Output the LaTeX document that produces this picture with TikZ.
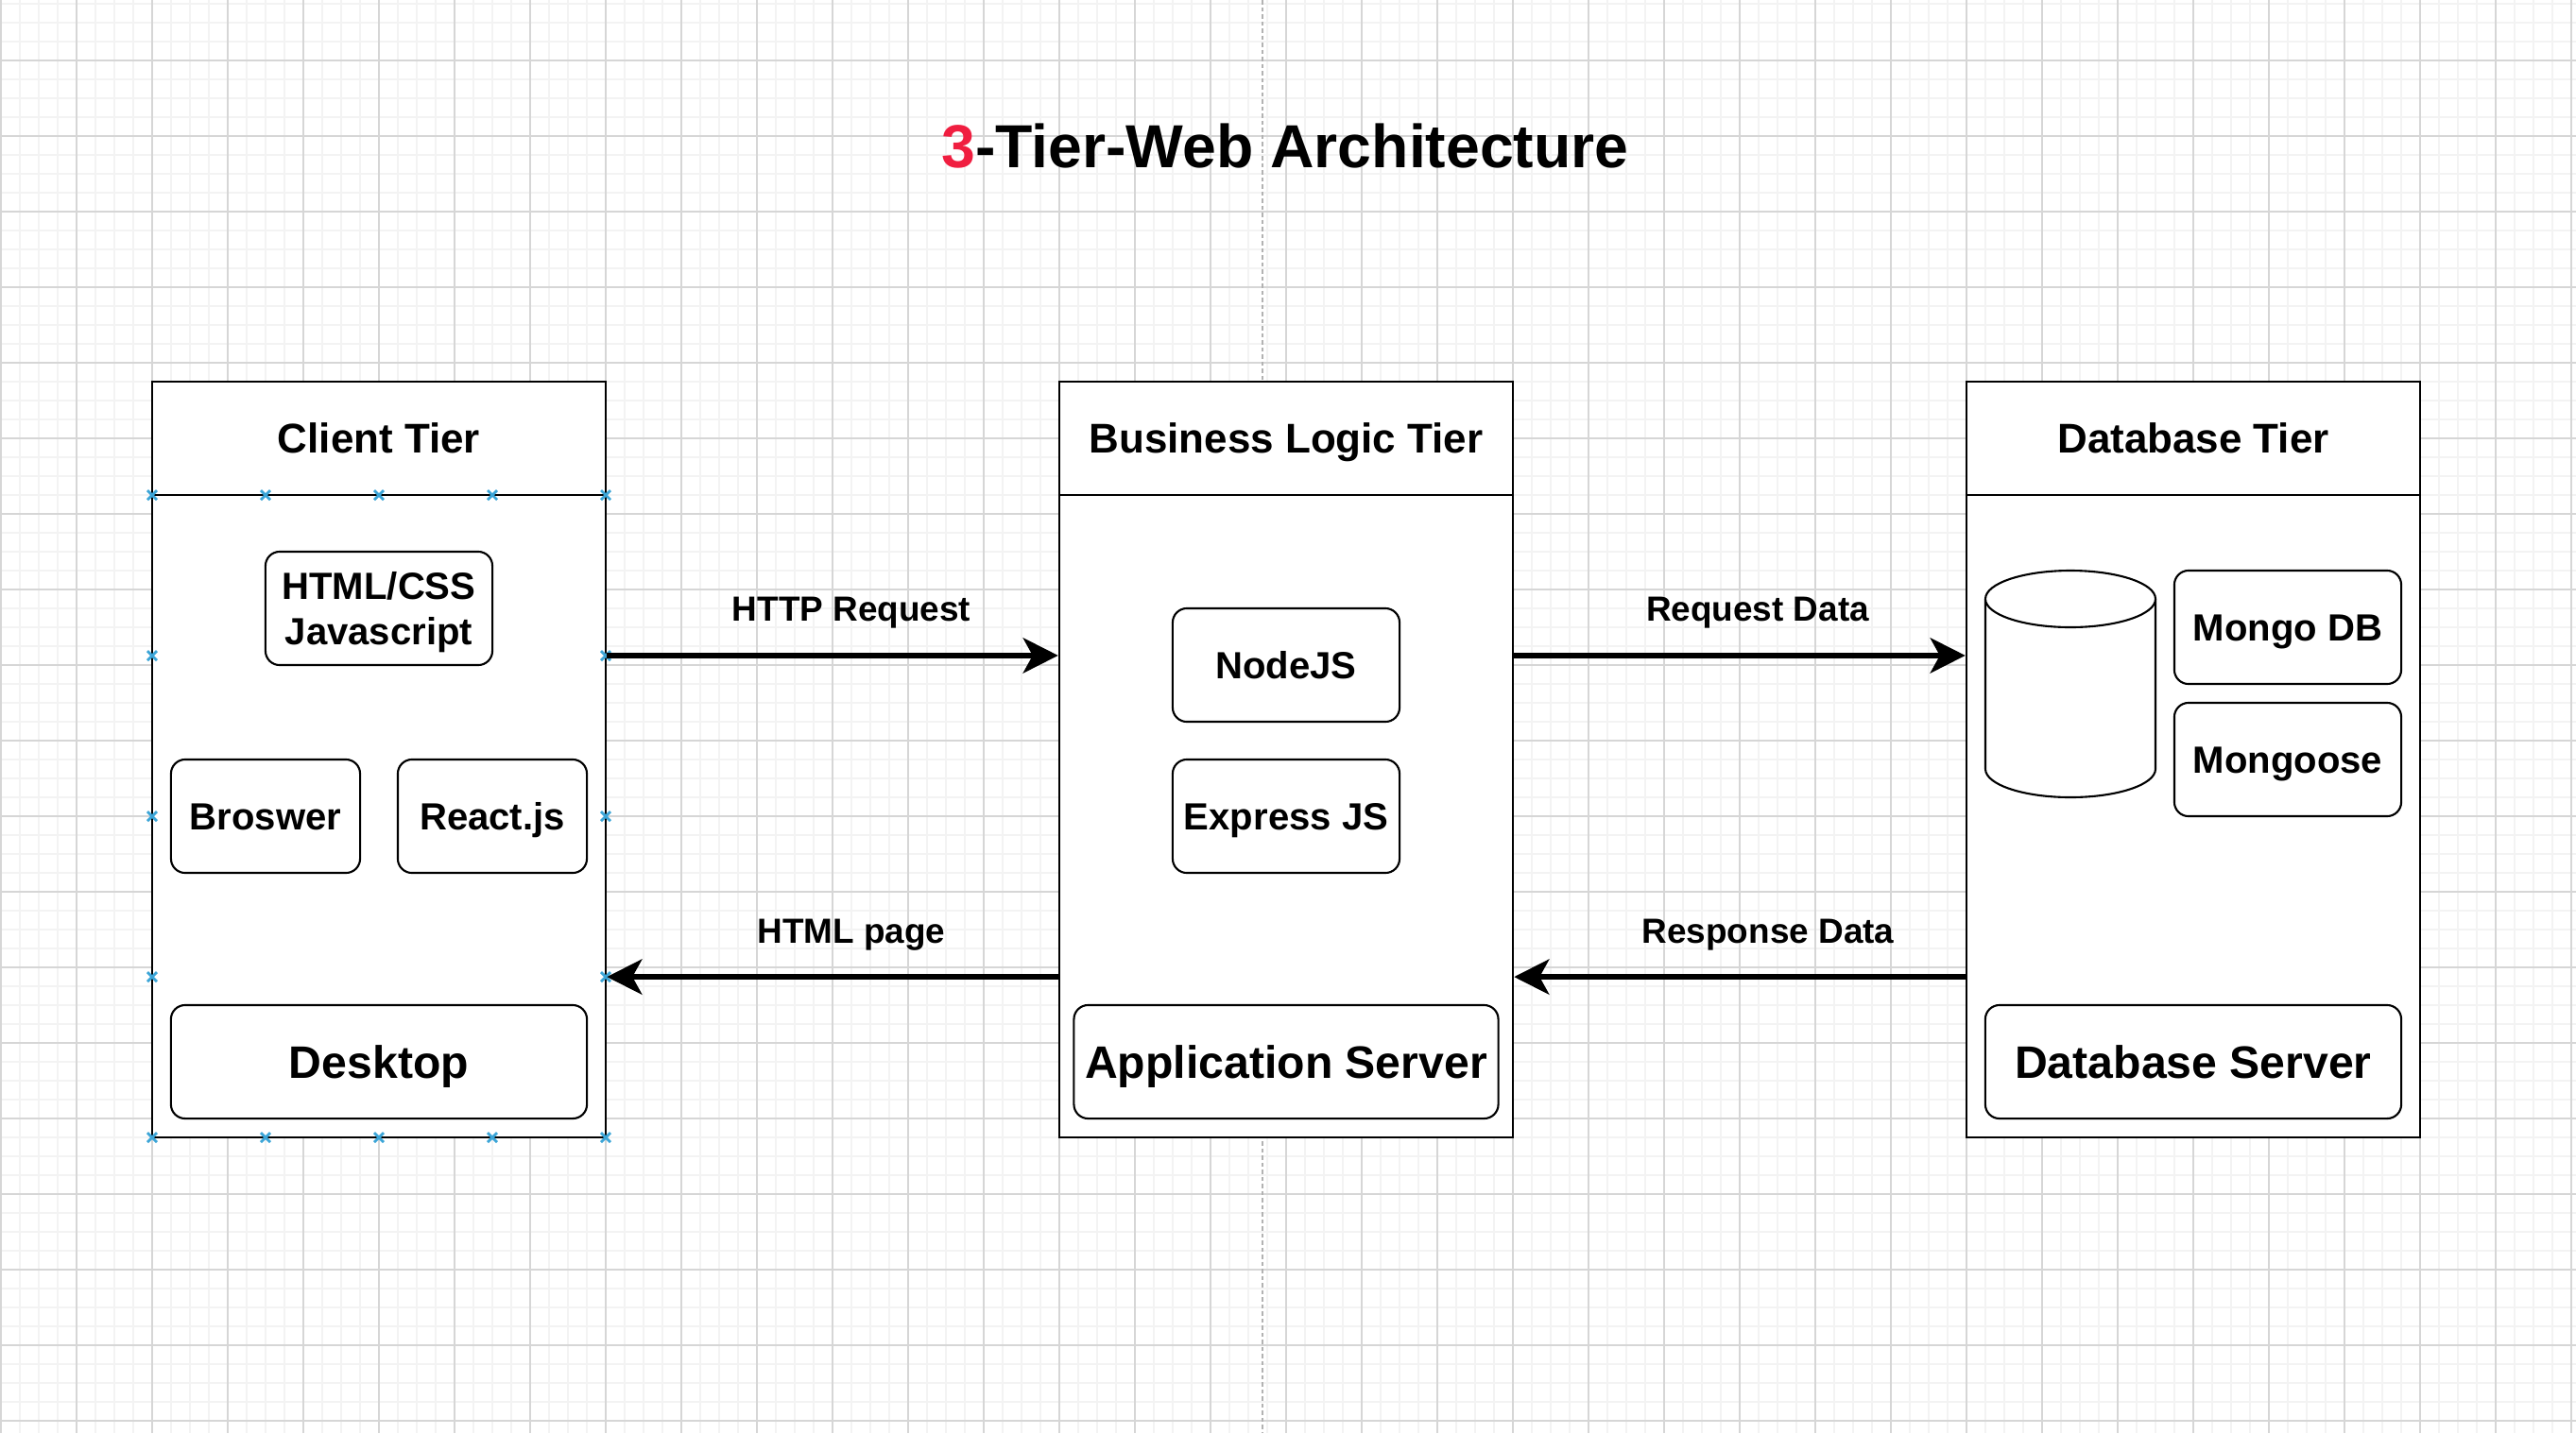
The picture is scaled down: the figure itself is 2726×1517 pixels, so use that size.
\documentclass[tikz,border=0pt]{standalone}
\usepackage{fontspec}
\setmainfont{Liberation Sans}
\usetikzlibrary{arrows.meta}
\definecolor{gridminor}{RGB}{243,243,243}
\definecolor{gridmajor}{RGB}{214,214,214}
\definecolor{pagebreak}{RGB}{178,178,178}
\definecolor{handleblue}{RGB}{60,165,215}
\definecolor{titlered}{RGB}{240,30,64}
\tikzset{minorline/.style={gridminor, line width=0.45pt}}
\tikzset{majorline/.style={gridmajor, line width=0.3pt}}
\tikzset{tier/.style={draw, line width=0.6pt, fill=white, minimum width=4.8cm}}
\tikzset{tierhead/.style={tier, minimum height=1.2cm, text height=9pt, text depth=0pt, font=\fontsize{12.5}{15}\selectfont\bfseries}}
\tikzset{tierbody/.style={tier, minimum height=6.8cm}}
\tikzset{partbox/.style={draw, line width=0.6pt, fill=white, rounded corners=0.15cm, minimum height=1.2cm, align=center, font=\fontsize{11.4}{13.7}\selectfont\bfseries}}
\tikzset{part/.style={partbox, text height=8.2pt, text depth=0pt}}
\tikzset{server/.style={partbox, minimum width=4.4cm, text height=9.8pt, text depth=0pt, font=\fontsize{13.7}{16}\selectfont\bfseries}}
\tikzset{flow/.style={line width=1.85pt, -{Stealth[length=0.37cm, width=0.37cm, inset=0.1cm]}}}
\tikzset{flowlabel/.style={anchor=base, inner sep=0pt, yshift=0.36cm, font=\fontsize{10.5}{12}\selectfont\bfseries}}
\tikzset{handlemark/.style={handleblue, line width=0.8pt}}

\begin{document}
\begin{tikzpicture}[x=0.01cm, y=-0.01cm]
            \useasboundingbox (0, 0) rectangle (2726, 1517);
            % grid
            \foreach \gx in {1, 21, ..., 2721} {
                \draw[minorline] (\gx, 0) -- (\gx, 1517);
            }
            \foreach \gy in {4, 24, ..., 1504} {
                \draw[minorline] (0, \gy) -- (2726, \gy);
            }
            \foreach \gx in {1, 81, ..., 2721} {
                \draw[majorline] (\gx, 0) -- (\gx, 1517);
            }
            \foreach \gy in {64, 144, ..., 1504} {
                \draw[majorline] (0, \gy) -- (2726, \gy);
            }
            \draw[pagebreak, line width=0.45pt, dash pattern=on 0.045cm off 0.03cm] (1336, 0) -- (1336, 1517);
            \node (title) [anchor=base, font=\fontsize{18.3}{22}\selectfont\bfseries] at (1360, 177) {\textcolor{titlered}{3}-Tier-Web Architecture};
            % tiers
            \node (clienthead) [tierhead] at (401, 464) {Client Tier};
            \node (clientbody) [tierbody] at (401, 864) {};
            \node (logichead) [tierhead] at (1361, 464) {Business Logic Tier};
            \node (logicbody) [tierbody] at (1361, 864) {};
            \node (datahead) [tierhead] at (2321, 464) {Database Tier};
            \node (databody) [tierbody] at (2321, 864) {};
            % client parts
            \node (markup) [partbox, text depth=0pt, minimum width=2.4cm] at (401, 644) {HTML/CSS\\Javascript};
            \node (browser) [part, minimum width=2cm] at (281, 864) {Broswer};
            \node (react) [part, minimum width=2cm] at (521, 864) {React.js};
            \node (desktop) [server] at (401, 1124) {Desktop};
            % logic parts
            \node (nodejs) [part, minimum width=2.4cm] at (1361, 704) {NodeJS};
            \node (express) [part, minimum width=2.4cm] at (1361, 864) {Express JS};
            \node (appserver) [server] at (1361, 1124) {Application Server};
            % database parts
            \draw[line width=0.6pt, fill=white] (2101, 634) -- (2101, 814) arc [start angle=180, end angle=0, x radius=90, y radius=30] -- (2281, 634);
            \draw[line width=0.6pt, fill=white] (2191, 634) ellipse [x radius=90, y radius=30];
            \node (mongodb) [part, minimum width=2.4cm] at (2421, 664) {Mongo DB};
            \node (mongoose) [part, minimum width=2.4cm] at (2421, 804) {Mongoose};
            \node (dbserver) [server] at (2321, 1124) {Database Server};
            % handles
            \foreach \hx in {161, 281, 401, 521, 641} {
                \foreach \hy in {524, 1204} {
                    \draw[handlemark] (\hx, \hy) +(-5, -5) -- +(5, 5) +(-5, 5) -- +(5, -5);
                }
            }
            \foreach \hx in {161, 641} {
                \foreach \hy in {694, 864, 1034} {
                    \draw[handlemark] (\hx, \hy) +(-5, -5) -- +(5, 5) +(-5, 5) -- +(5, -5);
                }
            }
            % requests and responses
            \draw[flow] ([yshift=1.7cm]clientbody.east) -- node[flowlabel, xshift=0.2cm] {HTTP Request} ([yshift=1.7cm]logicbody.west);
            \draw[flow] ([yshift=-1.7cm]logicbody.west) -- node[flowlabel, xshift=0.2cm] {HTML page} ([yshift=-1.7cm]clientbody.east);
            \draw[flow] ([yshift=1.7cm]logicbody.east) -- node[flowlabel, xshift=0.19cm] {Request Data} ([yshift=1.7cm]databody.west);
            \draw[flow] ([yshift=-1.7cm]databody.west) -- node[flowlabel, xshift=0.3cm] {Response Data} ([yshift=-1.7cm]logicbody.east);
\end{tikzpicture}
\end{document}
